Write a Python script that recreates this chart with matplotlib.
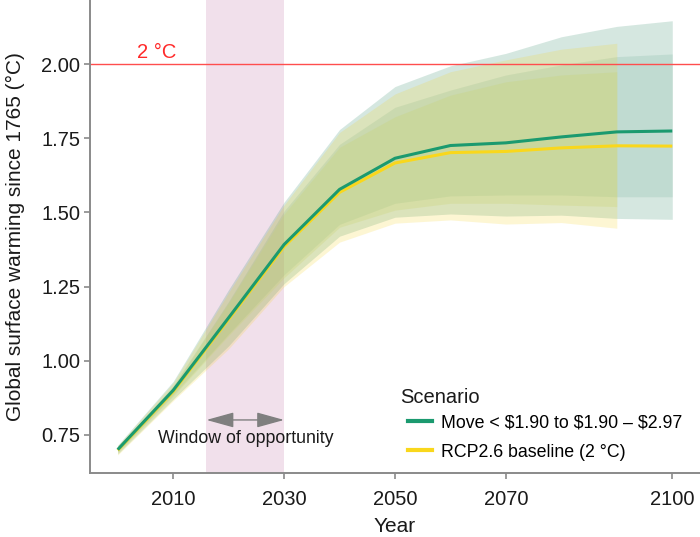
import matplotlib
matplotlib.use("Agg")
import matplotlib.pyplot as plt
from matplotlib.patches import FancyArrowPatch
from matplotlib.lines import Line2D

plt.rcParams['font.family'] = ['Liberation Sans', 'DejaVu Sans']

years = [2000, 2010, 2020, 2030, 2040, 2050, 2060, 2070, 2080, 2090, 2100]

# Move < $1.90 to $1.90 - $2.97
green_mean = [0.700, 0.900, 1.145, 1.392, 1.578, 1.683, 1.726, 1.735, 1.755, 1.772, 1.775]
green_hi_outer = [0.715, 0.930, 1.240, 1.535, 1.780, 1.925, 1.995, 2.037, 2.093, 2.128, 2.147]
green_hi_inner = [0.708, 0.915, 1.200, 1.505, 1.730, 1.855, 1.913, 1.964, 1.998, 2.026, 2.035]
green_lo_inner = [0.692, 0.885, 1.090, 1.290, 1.460, 1.531, 1.556, 1.559, 1.559, 1.553, 1.553]
green_lo_outer = [0.685, 0.870, 1.050, 1.260, 1.420, 1.484, 1.495, 1.488, 1.491, 1.480, 1.477]

# RCP2.6 baseline (2 °C)
yellow_mean = [0.698, 0.896, 1.140, 1.385, 1.568, 1.667, 1.702, 1.706, 1.718, 1.725, 1.724]
yellow_band_years = [2000, 2010, 2020, 2030, 2040, 2050, 2060, 2070, 2080, 2090]
yellow_hi_outer = [0.713, 0.925, 1.230, 1.525, 1.770, 1.900, 1.975, 2.015, 2.051, 2.071]
yellow_hi_inner = [0.706, 0.912, 1.195, 1.495, 1.720, 1.823, 1.896, 1.941, 1.964, 1.975]
yellow_lo_inner = [0.690, 0.880, 1.085, 1.280, 1.450, 1.508, 1.531, 1.531, 1.525, 1.520]
yellow_lo_outer = [0.682, 0.865, 1.040, 1.250, 1.400, 1.464, 1.475, 1.461, 1.466, 1.447]

window = (2016, 2030)
threshold = 2.0
x_ticks = [2010, 2030, 2050, 2070, 2100]
y_ticks = [0.75, 1.00, 1.25, 1.50, 1.75, 2.00]
labels = ['Move < \\$1.90 to \\$1.90 – \\$2.97', 'RCP2.6 baseline (2 °C)']

GREEN = '#1b9a6f'
YELLOW = '#f9d71c'

fig = plt.figure(figsize=(7.0, 5.37), dpi=100)
ax = fig.add_axes([90/700, 64/537, 610/700, 473/537])

ax.axvspan(window[0], window[1], color='#f1e0eb', lw=0, zorder=0)

ax.fill_between(years, green_lo_outer, green_hi_outer, color='#2e8b66', alpha=0.2, lw=0, zorder=1)
ax.fill_between(years, green_lo_inner, green_hi_inner, color='#2e8b66', alpha=0.12, lw=0, zorder=1)
ax.fill_between(yellow_band_years, yellow_lo_outer, yellow_hi_outer, color='#f5d327', alpha=0.2, lw=0, zorder=1)
ax.fill_between(yellow_band_years, yellow_lo_inner, yellow_hi_inner, color='#c9d36a', alpha=0.25, lw=0, zorder=1)

ax.axhline(threshold, color='#ff4d4d', lw=1.0, zorder=2)
ax.text(2007, 2.041, '2 °C', color='#ff2a2a', fontsize=14.5, ha='center', va='center')

ax.plot(years, yellow_mean, color=YELLOW, lw=2.2, zorder=3, solid_capstyle='butt')
ax.plot(years, green_mean, color=GREEN, lw=2.2, zorder=4, solid_capstyle='butt')

arr = FancyArrowPatch((window[0], 0.80), (window[1], 0.80),
                      arrowstyle='<|-|>,head_length=1.7,head_width=0.47',
                      mutation_scale=10, color='#7f7f7f', lw=1.0,
                      shrinkA=0, shrinkB=0, zorder=5)
ax.add_patch(arr)
ax.text(2023.1, 0.739, 'Window of opportunity', fontsize=12.8, ha='center', va='center', color='#1a1a1a')

ax.set_xlim(1995, 2105)
ax.set_ylim(0.621, 2.217)
ax.set_xticks(x_ticks)
ax.set_yticks(y_ticks)
ax.set_yticklabels([f'{v:.2f}' for v in y_ticks])
for s in ['top', 'right']:
    ax.spines[s].set_visible(False)
for s in ['left', 'bottom']:
    ax.spines[s].set_color('#8a8a8a')
    ax.spines[s].set_linewidth(1.4)
ax.tick_params(axis='both', colors='#8a8a8a', labelcolor='#1a1a1a', labelsize=14.5,
               length=4, width=1.2)
ax.tick_params(axis='x', pad=8)
ax.tick_params(axis='y', pad=3)
ax.set_xlabel('Year', fontsize=15, color='#1a1a1a', labelpad=6)
ax.set_ylabel('Global surface warming since 1765 (°C)', fontsize=15, color='#1a1a1a', labelpad=12)
ax.set_facecolor('white')

handles = [Line2D([], [], color=GREEN, lw=3),
           Line2D([], [], color=YELLOW, lw=3)]
leg = ax.legend(handles, labels, loc='lower left', bbox_to_anchor=(0.51, 0.011),
                frameon=False, fontsize=12.8,
                handlelength=1.35, handletextpad=0.5, labelspacing=0.7, borderaxespad=0)
ax.text(0.508, 0.1586, 'Scenario', transform=ax.transAxes, fontsize=14.5,
        color='#1a1a1a', ha='left', va='center')

fig.savefig('out.png', dpi=100)
